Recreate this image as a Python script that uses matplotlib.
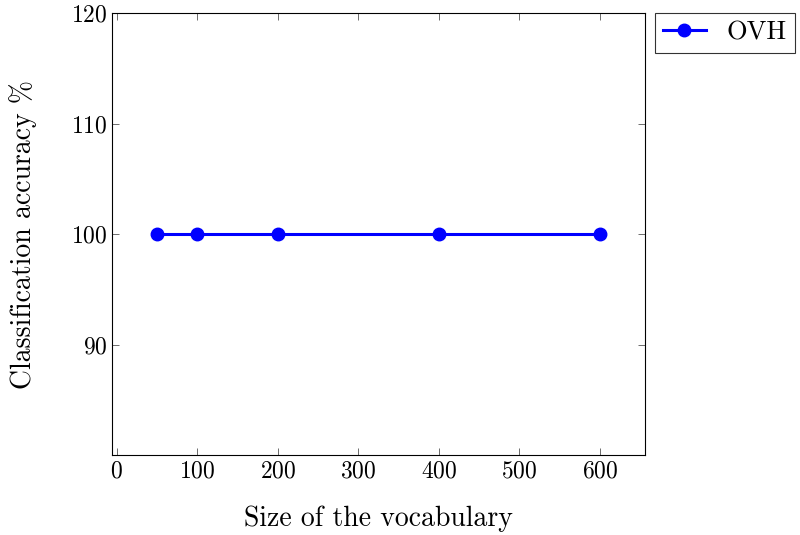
import matplotlib
matplotlib.use("Agg")
import matplotlib.pyplot as plt

plt.rcParams['font.family'] = 'serif'
plt.rcParams['font.serif'] = ['cmr10', 'DejaVu Serif']
plt.rcParams['mathtext.fontset'] = 'cm'
plt.rcParams['axes.formatter.use_mathtext'] = True

vocab_size = [50, 100, 200, 400, 600]
accuracy_ovh = [100, 100, 100, 100, 100]
xticks = [0, 100, 200, 300, 400, 500, 600]
yticks = [90, 100, 110, 120]

fig = plt.figure(figsize=(8, 5.35), dpi=100)
ax = fig.add_axes([0.14, 0.1495, 0.666, 0.8262])

ax.plot(vocab_size, accuracy_ovh, color='#0000ff', linewidth=2.2,
        marker='o', markersize=9, label='OVH')

ax.set_xlim(-6, 656)
ax.set_ylim(80, 120)
ax.set_xticks(xticks)
ax.set_yticks(yticks)
ax.tick_params(direction='in', top=True, right=True, labelsize=17,
               length=5, width=0.6, color='#555555')
for s in ax.spines.values():
    s.set_linewidth(0.8)

ax.set_xlabel('Size of the vocabulary', fontsize=20, labelpad=17)
ax.set_ylabel('Classification accuracy %', fontsize=20, labelpad=24)

leg = ax.legend(loc='upper left', bbox_to_anchor=(1.02, 1.0), fontsize=19,
                frameon=True, fancybox=False, edgecolor='black',
                handlelength=1.6, borderpad=0.3, borderaxespad=0.0)
leg.get_frame().set_linewidth(0.8)

fig.savefig('out.png', dpi=100)
